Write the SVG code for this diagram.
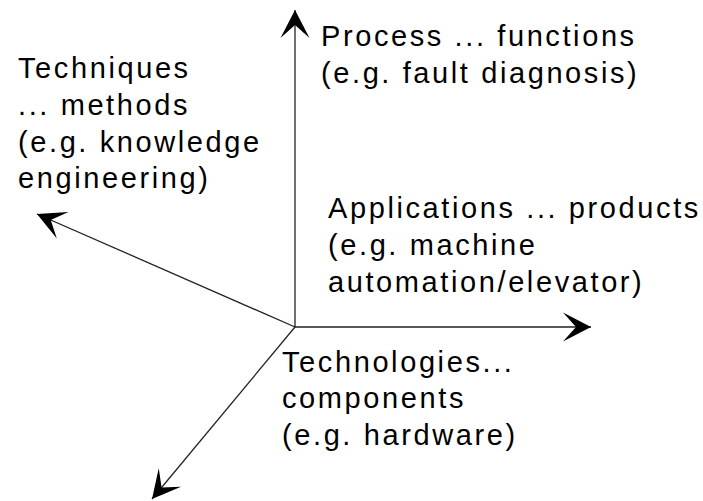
<svg xmlns="http://www.w3.org/2000/svg" width="703" height="501" viewBox="0 0 703 501">
<style>
.axis{stroke:#222;stroke-width:1.3;fill:none}
.lbl{font-family:"Liberation Sans",Arial,sans-serif;font-size:29px;letter-spacing:2.6px;fill:#000}
</style>
<defs>
<marker id="ah" viewBox="-30 -16 32 32" refX="0" refY="0" markerWidth="32" markerHeight="32" markerUnits="userSpaceOnUse" orient="auto">
<path d="M0,0 L-28,-14.5 L-15,0 L-28,14.5 Z" fill="#000"/>
</marker>
</defs>
<rect width="703" height="501" fill="#fff"/>
<g id="connectors">
<line class="axis" x1="295" y1="327" x2="295" y2="10" marker-end="url(#ah)"/>
<line class="axis" x1="295" y1="327" x2="591" y2="327" marker-end="url(#ah)"/>
<line class="axis" x1="295" y1="327" x2="37" y2="214" marker-end="url(#ah)"/>
<line class="axis" x1="295" y1="327" x2="152" y2="499" marker-end="url(#ah)"/>
</g>
<g id="process">
<text class="lbl" x="321" y="46">Process ... functions</text>
<text class="lbl" x="321" y="82.7">(e.g. fault diagnosis)</text>
</g>
<g id="techniques">
<text class="lbl" x="18" y="78.3">Techniques</text>
<text class="lbl" x="18" y="115">... methods</text>
<text class="lbl" x="18" y="151.7">(e.g. knowledge</text>
<text class="lbl" x="18" y="188">engineering)</text>
</g>
<g id="applications">
<text class="lbl" x="328" y="218.3">Applications ... products</text>
<text class="lbl" x="328" y="255">(e.g. machine</text>
<text class="lbl" x="328" y="291.7">automation/elevator)</text>
</g>
<g id="technologies">
<text class="lbl" x="282" y="371.7">Technologies...</text>
<text class="lbl" x="282" y="408.3">components</text>
<text class="lbl" x="282" y="445">(e.g. hardware)</text>
</g>
</svg>
